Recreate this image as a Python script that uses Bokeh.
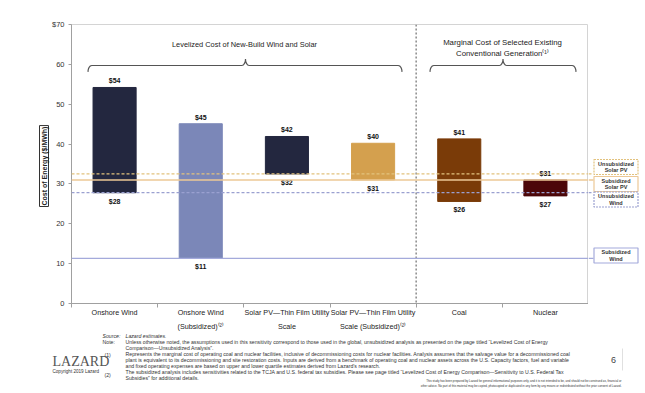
import numpy as np
from bokeh.plotting import figure
from bokeh.layouts import column, row
from bokeh.models import (ColumnDataSource, Range1d, FixedTicker, Span, Label, Title)
from bokeh.core.properties import value
from bokeh.embed import file_html
from bokeh.resources import INLINE

# ---------------- data ----------------
categories = ["Onshore Wind", "Onshore Wind\n(Subsidized)\u207d\u00b2\u207e",
              "Solar PV\u2014Thin Film Utility\nScale",
              "Solar PV\u2014Thin Film Utility\nScale (Subsidized)\u207d\u00b2\u207e",
              "Coal", "Nuclear"]
low_values = [27.8, 11.3, 32.5, 31.0, 25.6, 27.0]
high_values = [54.2, 45.1, 41.9, 40.2, 41.3, 31.0]
bar_colors = ["#23273f", "#7b87b8", "#23273f", "#d4a04e", "#7a3b08", "#4c0709"]
y_ticks = [0, 10, 20, 30, 40, 50, 60, 70]
y_tick_labels = ["0", "10", "20", "30", "40", "50", "60", "$70"]
ref_names = ["Unsubsidized\nSolar PV", "Subsidized\nSolar PV", "Unsubsidized\nWind", "Subsidized\nWind"]
ref_source_idx = [2, 3, 0, 1]   # reference lines = low end of these bars
group_titles = ["Levelized Cost of New-Build Wind and Solar",
                "Marginal Cost of Selected Existing\nConventional Generation\u207d\u00b9\u207e"]

FONT = "Liberation Sans"

n = len(categories)
centers = [i + 0.5 for i in range(n)]
bounds = [float(i) for i in range(n + 1)]

FRAME_W, FRAME_H = 517, 279
LEFT, TOP, BOTTOM = 71, 24, 28

# helpers converting page pixels to data space (annotation placement only)
def X(px):
    return (px - LEFT) / (FRAME_W / 6.0)

def Y(py):
    return (TOP + FRAME_H - py) / (FRAME_H / 70.0)

y_range = Range1d(0, 70)
p = figure(frame_width=FRAME_W, frame_height=FRAME_H, x_range=Range1d(0, 6), y_range=y_range,
           output_backend="svg", toolbar_location=None,
           min_border_left=LEFT, min_border_right=0, min_border_top=TOP, min_border_bottom=BOTTOM)
p.background_fill_color = "white"
p.border_fill_color = "white"
p.outline_line_color = "#d4d4d4"
p.xgrid.visible = False
p.ygrid.visible = False

# axes
p.yaxis.ticker = FixedTicker(ticks=y_ticks)
p.yaxis.major_label_overrides = {t: l for t, l in zip(y_ticks, y_tick_labels)}
p.yaxis.major_tick_out = 3
p.yaxis.major_tick_in = 0
p.yaxis.minor_tick_line_color = None
p.yaxis.axis_line_color = "#a0a0a0"
p.yaxis.major_tick_line_color = "#a0a0a0"
p.yaxis.major_label_text_font = FONT
p.yaxis.major_label_text_font_size = "7.5px"
p.yaxis.major_label_text_color = "#333333"
p.yaxis.major_label_standoff = 4

p.xaxis.ticker = FixedTicker(ticks=centers, minor_ticks=bounds)
p.xaxis.major_label_overrides = {c: l for c, l in zip(centers, categories)}
p.xaxis.major_tick_line_color = None
p.xaxis.major_tick_out = 0
p.xaxis.major_tick_in = 0
p.xaxis.minor_tick_out = 4
p.xaxis.minor_tick_in = 0
p.xaxis.minor_tick_line_color = "#a0a0a0"
p.xaxis.axis_line_color = "#a0a0a0"
p.xaxis.major_label_text_font = FONT
p.xaxis.major_label_text_font_size = "7.2px"
p.xaxis.major_label_text_line_height = 1.6
p.xaxis.major_label_text_color = "#222222"
p.xaxis.major_label_standoff = 0

# boxed y-axis title (anchored at the bottom of the frame, shifted up by offset)
title_kw = dict(text="Cost of Energy ($/MWh)", align="left", text_font=FONT, text_font_size="7px",
                text_font_style="bold", text_color="#222222", border_line_color="#333333",
                border_line_width=1, background_fill_color="white", standoff=0, offset=97)
try:
    ytitle = Title(padding=1, **title_kw)
except Exception:
    ytitle = Title(**title_kw)
p.add_layout(ytitle, "left")

# bars
src = ColumnDataSource(dict(
    x=centers, low=low_values, high=high_values, color=bar_colors,
    top_lab=["$%d" % round(v) for v in high_values],
    bot_lab=["$%d" % round(v) for v in low_values]))
p.vbar(x="x", width=0.5, bottom="low", top="high", fill_color="color", line_color="color", source=src)
p.text(x="x", y="high", text="top_lab", source=src, text_align="center", text_baseline="bottom",
       y_offset=-3, text_font=value(FONT), text_font_size="7px", text_font_style="bold", text_color="#111111")
p.text(x="x", y="low", text="bot_lab", source=src, text_align="center", text_baseline="top",
       y_offset=5, text_font=value(FONT), text_font_size="7px", text_font_style="bold", text_color="#111111")

# group divider
p.add_layout(Span(location=4.0, dimension="height", line_color="#8a8a8a", line_dash="2 2", line_width=1.5))

# reference lines
ref_styles = [("#e2c27e", "3 2", 1.2), ("#ecc896", "solid", 1.6), ("#9aa0d0", "3 2", 1.2), ("#a4aadb", "solid", 1.2)]
ref_values = [low_values[i] for i in ref_source_idx]
for v, (col, dash, lw) in zip(ref_values, ref_styles):
    p.add_layout(Span(location=v, dimension="width", line_color=col, line_dash=dash, line_width=lw))

# braces
def brace(x0, xc, x1, yl, h=1.6, rx=0.045):
    t = np.linspace(0, np.pi / 2, 7)
    xs = list(x0 + rx - rx * np.cos(t)) + list(xc - rx + rx * np.sin(t)) + \
         list(xc + rx - rx * np.cos(t)) + list(x1 - rx + rx * np.sin(t))
    ys = list(yl - h + h * np.sin(t)) + list(yl + h - h * np.cos(t)) + \
         list(yl + h - h * np.sin(t)) + list(yl - h + h * np.cos(t))
    return xs, ys

for (x0, xc, x1) in [(X(87.5), X(245), X(401.5)), (X(429.5), X(502.5), X(575.5))]:
    bx, by = brace(x0, xc, x1, Y(65))
    p.line(bx, by, line_color="#555555", line_width=1.2)

p.add_layout(Label(x=X(244), y=Y(44), text=group_titles[0], text_align="center", text_baseline="middle",
                   text_font=FONT, text_font_size="7.4px", text_color="#222222"))
p.add_layout(Label(x=X(502), y=Y(47.5), text=group_titles[1], text_align="center", text_baseline="middle",
                   text_font=FONT, text_font_size="7.8px", text_color="#222222", text_line_height=1.2))

# ---------------- right-hand legend boxes ----------------
RW = 645 - (LEFT + FRAME_W)
pr = figure(frame_width=RW, frame_height=FRAME_H, x_range=Range1d(LEFT + FRAME_W, 645), y_range=y_range,
            output_backend="svg", toolbar_location=None, x_axis_location=None, y_axis_location=None,
            min_border_left=0, min_border_right=0, min_border_top=TOP, min_border_bottom=BOTTOM)
pr.grid.visible = False
pr.outline_line_color = None
pr.background_fill_color = "white"
pr.border_fill_color = "white"
box_centers_py = [166.5, 183.5, 199.0, 255.0]
unit = FRAME_H / 70.0
for name, v, (col, dash, lw), bpy in zip(ref_names, ref_values, ref_styles, box_centers_py):
    pr.segment(x0=[LEFT + FRAME_W], x1=[593], y0=[v], y1=[v], line_color=col, line_dash=dash, line_width=lw)
    pr.rect(x=[615.5], y=[Y(bpy)], width=44, height=15 / unit, fill_color="white", line_color=col,
            line_dash=("2 1" if dash != "solid" else "solid"), line_width=1.2)
    pr.text(x=[615.5], y=[Y(bpy)], text=[name], text_align="center", text_baseline="middle",
            text_font=value(FONT), text_font_size="5.5px", text_font_style="bold", text_color="#333333",
            text_line_height=1.05)

# ---------------- footer (page-pixel coordinates) ----------------
FT = TOP + FRAME_H + BOTTOM
FH = 393 - FT
pf = figure(width=645, height=FH, x_range=Range1d(0, 645), y_range=Range1d(FT + FH, FT),
            output_backend="svg", toolbar_location=None, x_axis_location=None, y_axis_location=None,
            min_border=0)
pf.grid.visible = False
pf.outline_line_color = None
pf.background_fill_color = "white"
pf.border_fill_color = "white"

def foot(px, py, text, size="5.2px", style="normal", align="left", color="#333333", font=FONT):
    pf.text(x=[px], y=[py], text=[text], text_align=align, text_baseline="middle",
            text_font=value(font), text_font_size=size, text_font_style=style, text_color=color)

foot(102, 333.5, "Source:", style="italic")
foot(125, 333.5, "Lazard estimates.", style="italic")
foot(102, 339.5, "Note:")
foot(125, 339.5, "Unless otherwise noted, the assumptions used in this sensitivity correspond to those used in the global, "
                 "unsubsidized analysis as presented on the page titled \u201cLevelized Cost of Energy")
foot(125, 345.5, "Comparison\u2014Unsubsidized Analysis\u201d.")
foot(104, 352, "(1)")
foot(125, 351.5, "Represents the marginal cost of operating coal and nuclear facilities, inclusive of decommissioning costs for "
                 "nuclear facilities. Analysis assumes that the salvage value for a decommissioned coal")
foot(125, 357.5, "plant is equivalent to its decommissioning and site restoration costs. Inputs are derived from a benchmark of "
                 "operating coal and nuclear assets across the U.S. Capacity factors, fuel and variable")
foot(125, 363.5, "and fixed operating expenses are based on upper and lower quartile estimates derived from Lazard\u2019s research.")
foot(104, 372, "(2)")
foot(125, 369.5, "The subsidized analysis includes sensitivities related to the TCJA and U.S. federal tax subsidies. Please see "
                 "page titled \u201cLevelized Cost of Energy Comparison\u2014Sensitivity to U.S. Federal Tax")
foot(125, 375.5, "Subsidies\u201d for additional details.")
foot(621, 378, "This study has been prepared by Lazard for general informational purposes only, and it is not intended to be, "
               "and should not be construed as, financial or", size="2.9px", align="right")
foot(621, 383.5, "other advice. No part of this material may be copied, photocopied or duplicated in any form by any means or "
                 "redistributed without the prior consent of Lazard.", size="2.9px", align="right")
foot(52, 359, "LAZARD", size="14px", color="#555555", font="Liberation Serif")
foot(52, 368.5, "Copyright 2019 Lazard", size="4.6px")
foot(613, 357, "6", size="9px", align="center", color="#444444")
pf.segment(x0=[622], x1=[622], y0=[346], y1=[368], line_color="#e0e0e0", line_width=1)

layout = column(row(p, pr, spacing=0), pf, spacing=0)
open("out.html", "w").write(file_html(layout, INLINE))
